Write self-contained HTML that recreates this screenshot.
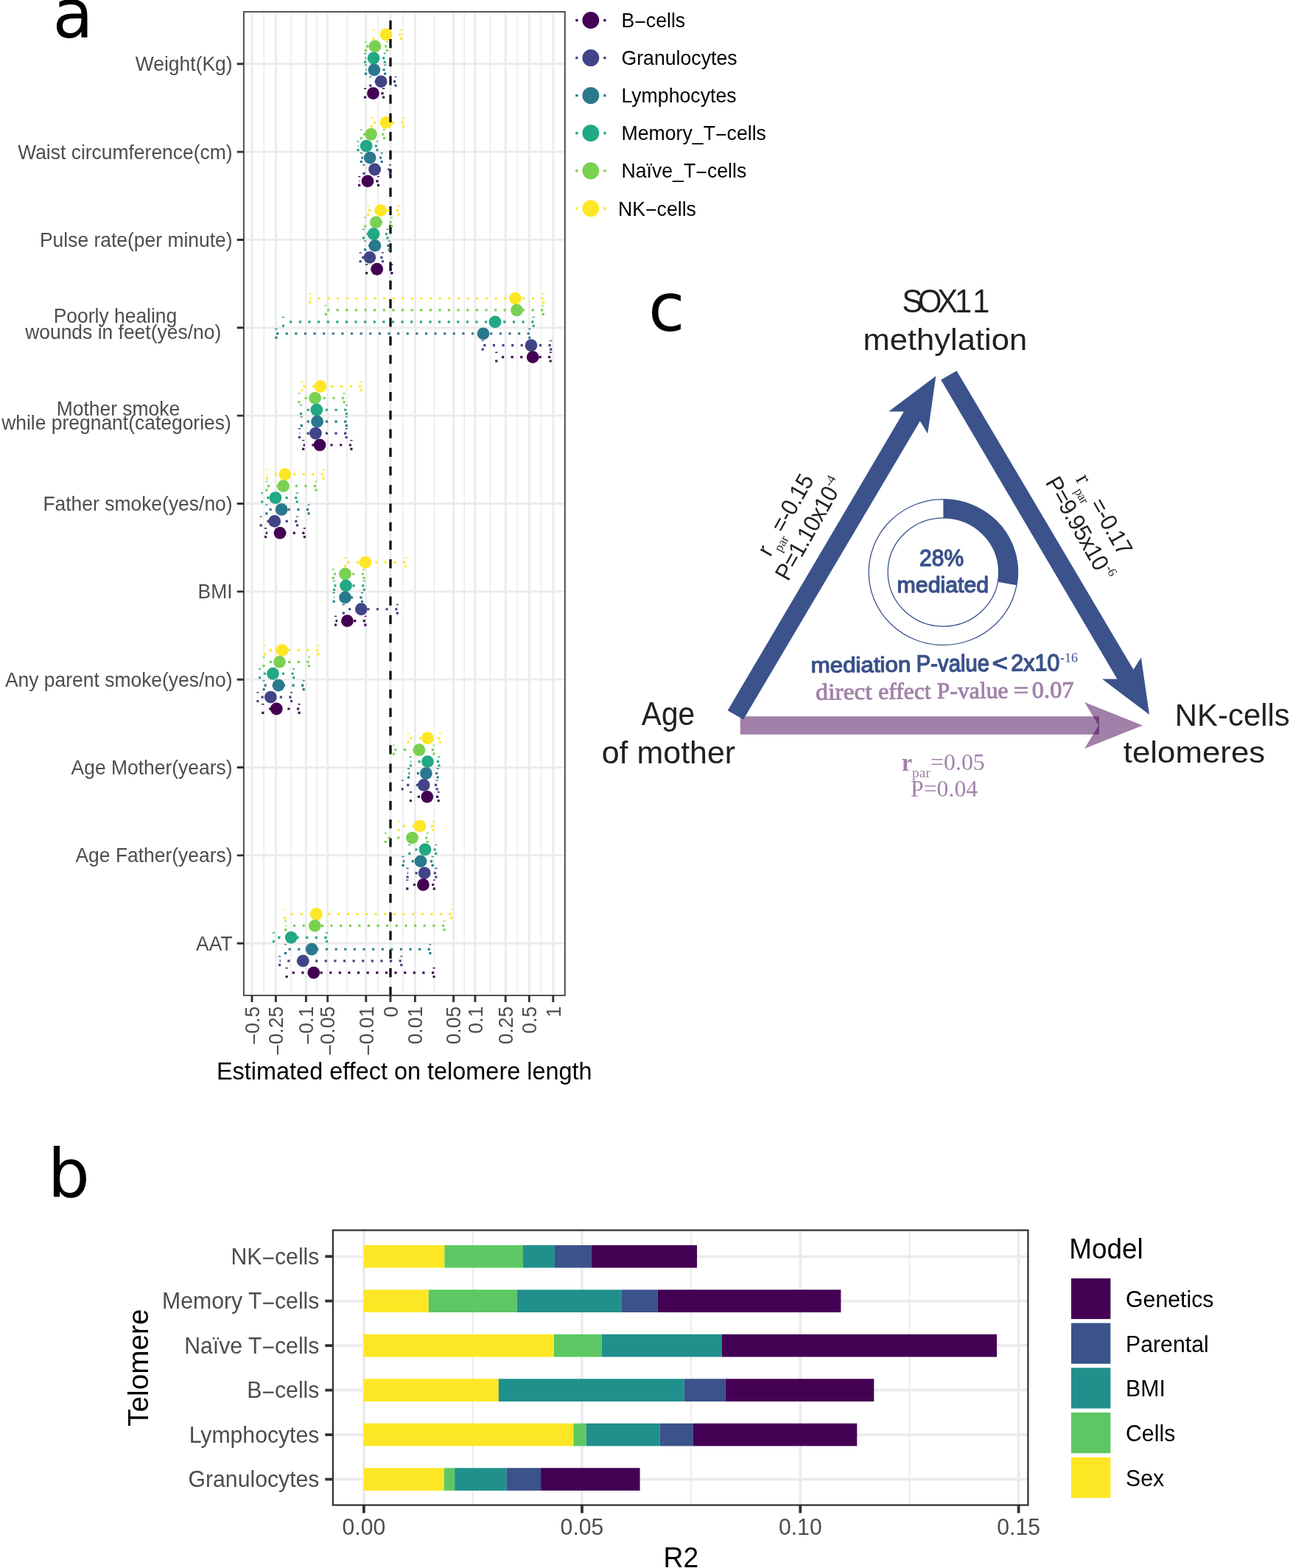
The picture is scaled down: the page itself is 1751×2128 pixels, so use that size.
<!DOCTYPE html>
<html lang="en">
<head>
<meta charset="utf-8">
<title>Figure: telomere length associations</title>
<style>
html, body { margin: 0; padding: 0; background: #fff; }
body { width: 1751px; height: 2128px; overflow: hidden; }
svg { display: block; }
text { white-space: pre; }
</style>
</head>
<body>
<svg width="1751" height="2128" viewBox="0 0 1751 2128">
<rect width="1751" height="2128" fill="#fff"/>
<g id="panel-a">
<path d="M358.2 16V1350.9M394.9 16V1350.9M430.05 16V1350.9M470.75 16V1350.9M513.4 16V1350.9M546.7 16V1350.9M589.5 16V1350.9M630.25 16V1350.9M665.55 16V1350.9M702.25 16V1350.9M734.55 16V1350.9" stroke="#EBEBEB" stroke-width="1.5" fill="none"/>
<path d="M342 16V1350.9M374.4 16V1350.9M415.4 16V1350.9M444.7 16V1350.9M496.8 16V1350.9M530 16V1350.9M563.4 16V1350.9M615.6 16V1350.9M644.9 16V1350.9M686.2 16V1350.9M718.3 16V1350.9M750.8 16V1350.9M330.9 86.77H766.8M330.9 206.12H766.8M330.9 325.47H766.8M330.9 444.82H766.8M330.9 564.17H766.8M330.9 683.52H766.8M330.9 802.87H766.8M330.9 922.22H766.8M330.9 1041.57H766.8M330.9 1160.92H766.8M330.9 1280.27H766.8" stroke="#EBEBEB" stroke-width="2.8" fill="none"/>
<g><circle cx="524" cy="46.97" r="8.4" fill="#FDE725"/><circle cx="508.9" cy="62.89" r="8.4" fill="#7AD151"/><circle cx="507.1" cy="78.81" r="8.4" fill="#22A884"/><circle cx="507.9" cy="94.73" r="8.4" fill="#2A788E"/><circle cx="517.2" cy="110.65" r="8.4" fill="#414487"/><circle cx="506.5" cy="126.57" r="8.4" fill="#440154"/><circle cx="524" cy="166.32" r="8.4" fill="#FDE725"/><circle cx="503.6" cy="182.24" r="8.4" fill="#7AD151"/><circle cx="497.2" cy="198.16" r="8.4" fill="#22A884"/><circle cx="502.2" cy="214.08" r="8.4" fill="#2A788E"/><circle cx="508.6" cy="230" r="8.4" fill="#414487"/><circle cx="499" cy="245.92" r="8.4" fill="#440154"/><circle cx="516.7" cy="285.67" r="8.4" fill="#FDE725"/><circle cx="510.3" cy="301.59" r="8.4" fill="#7AD151"/><circle cx="507.1" cy="317.51" r="8.4" fill="#22A884"/><circle cx="508.9" cy="333.43" r="8.4" fill="#2A788E"/><circle cx="501.8" cy="349.35" r="8.4" fill="#414487"/><circle cx="511.7" cy="365.27" r="8.4" fill="#440154"/><circle cx="699.4" cy="405.02" r="8.4" fill="#FDE725"/><circle cx="701.5" cy="420.94" r="8.4" fill="#7AD151"/><circle cx="672" cy="436.86" r="8.4" fill="#22A884"/><circle cx="656" cy="452.78" r="8.4" fill="#2A788E"/><circle cx="721" cy="468.7" r="8.4" fill="#414487"/><circle cx="723.2" cy="484.62" r="8.4" fill="#440154"/><circle cx="435" cy="524.37" r="8.4" fill="#FDE725"/><circle cx="427.6" cy="540.29" r="8.4" fill="#7AD151"/><circle cx="429.8" cy="556.21" r="8.4" fill="#22A884"/><circle cx="430.6" cy="572.13" r="8.4" fill="#2A788E"/><circle cx="428.4" cy="588.05" r="8.4" fill="#414487"/><circle cx="434" cy="603.97" r="8.4" fill="#440154"/><circle cx="386.8" cy="643.72" r="8.4" fill="#FDE725"/><circle cx="384.6" cy="659.64" r="8.4" fill="#7AD151"/><circle cx="373.9" cy="675.56" r="8.4" fill="#22A884"/><circle cx="382.2" cy="691.48" r="8.4" fill="#2A788E"/><circle cx="372.7" cy="707.4" r="8.4" fill="#414487"/><circle cx="380" cy="723.32" r="8.4" fill="#440154"/><circle cx="496" cy="763.07" r="8.4" fill="#FDE725"/><circle cx="468.5" cy="778.99" r="8.4" fill="#7AD151"/><circle cx="469.5" cy="794.91" r="8.4" fill="#22A884"/><circle cx="468.5" cy="810.83" r="8.4" fill="#2A788E"/><circle cx="490.3" cy="826.75" r="8.4" fill="#414487"/><circle cx="471.4" cy="842.67" r="8.4" fill="#440154"/><circle cx="383" cy="882.42" r="8.4" fill="#FDE725"/><circle cx="379.5" cy="898.34" r="8.4" fill="#7AD151"/><circle cx="370.5" cy="914.26" r="8.4" fill="#22A884"/><circle cx="378" cy="930.18" r="8.4" fill="#2A788E"/><circle cx="367.4" cy="946.1" r="8.4" fill="#414487"/><circle cx="375.3" cy="962.02" r="8.4" fill="#440154"/><circle cx="580.4" cy="1001.77" r="8.4" fill="#FDE725"/><circle cx="569" cy="1017.69" r="8.4" fill="#7AD151"/><circle cx="580.4" cy="1033.61" r="8.4" fill="#22A884"/><circle cx="578.4" cy="1049.53" r="8.4" fill="#2A788E"/><circle cx="575.2" cy="1065.45" r="8.4" fill="#414487"/><circle cx="579.8" cy="1081.37" r="8.4" fill="#440154"/><circle cx="570" cy="1121.12" r="8.4" fill="#FDE725"/><circle cx="559.5" cy="1137.04" r="8.4" fill="#7AD151"/><circle cx="577" cy="1152.96" r="8.4" fill="#22A884"/><circle cx="571" cy="1168.88" r="8.4" fill="#2A788E"/><circle cx="576.2" cy="1184.8" r="8.4" fill="#414487"/><circle cx="574.4" cy="1200.72" r="8.4" fill="#440154"/><circle cx="429.4" cy="1240.47" r="8.4" fill="#FDE725"/><circle cx="427.4" cy="1256.39" r="8.4" fill="#7AD151"/><circle cx="395.2" cy="1272.31" r="8.4" fill="#22A884"/><circle cx="423.2" cy="1288.23" r="8.4" fill="#2A788E"/><circle cx="411.3" cy="1304.15" r="8.4" fill="#414487"/><circle cx="425.8" cy="1320.07" r="8.4" fill="#440154"/></g>
<path d="M530 1351.35V16" stroke="#000" stroke-width="3.2" stroke-dasharray="12.2 13.02" fill="none"/>
<g fill="none" stroke-width="3.155" stroke-dasharray="3.155 9.46"><path d="M544.5 53.97V39.97M544.5 46.97H507M507 53.97V39.97" stroke="#FDE725"/><path d="M525.4 69.89V55.89M525.4 62.89H496.5M496.5 69.89V55.89" stroke="#7AD151"/><path d="M522.3 85.81V71.81M522.3 78.81H495.6M495.6 85.81V71.81" stroke="#22A884"/><path d="M522.7 101.73V87.73M522.7 94.73H496.5M496.5 101.73V87.73" stroke="#2A788E"/><path d="M537.1 117.65V103.65M537.1 110.65H502.8M502.8 117.65V103.65" stroke="#414487"/><path d="M520.6 133.57V119.57M520.6 126.57H495.6M495.6 133.57V119.57" stroke="#440154"/><path d="M547.8 173.32V159.32M547.8 166.32H504.3M504.3 173.32V159.32" stroke="#FDE725"/><path d="M521.5 189.24V175.24M521.5 182.24H490.3M490.3 189.24V175.24" stroke="#7AD151"/><path d="M511.9 205.16V191.16M511.9 198.16H486M486 205.16V191.16" stroke="#22A884"/><path d="M518.2 221.08V207.08M518.2 214.08H490.3M490.3 221.08V207.08" stroke="#2A788E"/><path d="M529.4 237V223M529.4 230H494M494 237V223" stroke="#414487"/><path d="M513.5 252.92V238.92M513.5 245.92H487.7M487.7 252.92V238.92" stroke="#440154"/><path d="M541.1 292.67V278.67M541.1 285.67H499.4M499.4 292.67V278.67" stroke="#FDE725"/><path d="M531.7 308.59V294.59M531.7 301.59H495.6M495.6 308.59V294.59" stroke="#7AD151"/><path d="M526 324.51V310.51M526 317.51H493.6M493.6 324.51V310.51" stroke="#22A884"/><path d="M528.4 340.43V326.43M528.4 333.43H495.6M495.6 340.43V326.43" stroke="#2A788E"/><path d="M519.5 356.35V342.35M519.5 349.35H489.1M489.1 356.35V342.35" stroke="#414487"/><path d="M531.9 372.27V358.27M531.9 365.27H497.6M497.6 372.27V358.27" stroke="#440154"/><path d="M737.7 412.02V398.02M737.7 405.02H420.6M420.6 412.02V398.02" stroke="#FDE725"/><path d="M737.3 427.94V413.94M737.3 420.94H442.3M442.3 427.94V413.94" stroke="#7AD151"/><path d="M724.3 443.86V429.86M724.3 436.86H384.4M384.4 443.86V429.86" stroke="#22A884"/><path d="M718.8 459.78V445.78M718.8 452.78H374.9M374.9 459.78V445.78" stroke="#2A788E"/><path d="M747.7 475.7V461.7M747.7 468.7H655.2M655.2 475.7V461.7" stroke="#414487"/><path d="M747.2 491.62V477.62M747.2 484.62H673.8M673.8 491.62V477.62" stroke="#440154"/><path d="M490.3 531.37V517.37M490.3 524.37H409.8M409.8 531.37V517.37" stroke="#FDE725"/><path d="M467.1 547.29V533.29M467.1 540.29H406M406 547.29V533.29" stroke="#7AD151"/><path d="M470.3 563.21V549.21M470.3 556.21H408.4M408.4 563.21V549.21" stroke="#22A884"/><path d="M470.3 579.13V565.13M470.3 572.13H409.2M409.2 579.13V565.13" stroke="#2A788E"/><path d="M470.2 595.05V581.05M470.2 588.05H406.5M406.5 595.05V581.05" stroke="#414487"/><path d="M476.9 610.97V596.97M476.9 603.97H411.7M411.7 610.97V596.97" stroke="#440154"/><path d="M438.9 650.72V636.72M438.9 643.72H362.4M362.4 650.72V636.72" stroke="#FDE725"/><path d="M429.1 666.64V652.64M429.1 659.64H362M362 666.64V652.64" stroke="#7AD151"/><path d="M403.3 682.56V668.56M403.3 675.56H355.7M355.7 682.56V668.56" stroke="#22A884"/><path d="M419.1 698.48V684.48M419.1 691.48H361.8M361.8 698.48V684.48" stroke="#2A788E"/><path d="M403.4 714.4V700.4M403.4 707.4H354.2M354.2 714.4V700.4" stroke="#414487"/><path d="M413.4 730.32V716.32M413.4 723.32H360.6M360.6 730.32V716.32" stroke="#440154"/><path d="M550.3 770.07V756.07M550.3 763.07H468.5M468.5 770.07V756.07" stroke="#FDE725"/><path d="M493.9 785.99V771.99M493.9 778.99H452.3M452.3 785.99V771.99" stroke="#7AD151"/><path d="M494.3 801.91V787.91M494.3 794.91H453.5M453.5 801.91V787.91" stroke="#22A884"/><path d="M491.5 817.83V803.83M491.5 810.83H453.1M453.1 817.83V803.83" stroke="#2A788E"/><path d="M539.3 833.75V819.75M539.3 826.75H466.3M466.3 833.75V819.75" stroke="#414487"/><path d="M495.9 849.67V835.67M495.9 842.67H455.5M455.5 849.67V835.67" stroke="#440154"/><path d="M432 889.42V875.42M432 882.42H359.4M359.4 889.42V875.42" stroke="#FDE725"/><path d="M419.5 905.34V891.34M419.5 898.34H357.9M357.9 905.34V891.34" stroke="#7AD151"/><path d="M398.7 921.26V907.26M398.7 914.26H352.6M352.6 921.26V907.26" stroke="#22A884"/><path d="M412.2 937.18V923.18M412.2 930.18H358.1M358.1 937.18V923.18" stroke="#2A788E"/><path d="M395.5 953.1V939.1M395.5 946.1H349.9M349.9 953.1V939.1" stroke="#414487"/><path d="M406.1 969.02V955.02M406.1 962.02H356.8M356.8 969.02V955.02" stroke="#440154"/><path d="M597.3 1008.77V994.77M597.3 1001.77H553.9M553.9 1008.77V994.77" stroke="#FDE725"/><path d="M588.9 1024.69V1010.69M588.9 1017.69H534.4M534.4 1024.69V1010.69" stroke="#7AD151"/><path d="M596 1040.61V1026.61M596 1033.61H557.3M557.3 1040.61V1026.61" stroke="#22A884"/><path d="M594.2 1056.53V1042.53M594.2 1049.53H554.6M554.6 1056.53V1042.53" stroke="#2A788E"/><path d="M593.2 1072.45V1058.45M593.2 1065.45H546.2M546.2 1072.45V1058.45" stroke="#414487"/><path d="M595.2 1088.37V1074.37M595.2 1081.37H557.4M557.4 1088.37V1074.37" stroke="#440154"/><path d="M588.1 1128.12V1114.12M588.1 1121.12H540.9M540.9 1128.12V1114.12" stroke="#FDE725"/><path d="M580.2 1144.04V1130.04M580.2 1137.04H523.2M523.2 1144.04V1130.04" stroke="#7AD151"/><path d="M591.8 1159.96V1145.96M591.8 1152.96H555.9M555.9 1159.96V1145.96" stroke="#22A884"/><path d="M587.1 1175.88V1161.88M587.1 1168.88H547M547 1175.88V1161.88" stroke="#2A788E"/><path d="M591.9 1191.8V1177.8M591.9 1184.8H553.1M553.1 1191.8V1177.8" stroke="#414487"/><path d="M589.3 1207.72V1193.72M589.3 1200.72H552.8M552.8 1207.72V1193.72" stroke="#440154"/><path d="M612.7 1247.47V1233.47M612.7 1240.47H386.7M386.7 1247.47V1233.47" stroke="#FDE725"/><path d="M603 1263.39V1249.39M603 1256.39H387.7M387.7 1263.39V1249.39" stroke="#7AD151"/><path d="M443.5 1279.31V1265.31M443.5 1272.31H371.5M371.5 1279.31V1265.31" stroke="#22A884"/><path d="M583.9 1295.23V1281.23M583.9 1288.23H387.5M387.5 1295.23V1281.23" stroke="#2A788E"/><path d="M544.8 1311.15V1297.15M544.8 1304.15H379.6M379.6 1311.15V1297.15" stroke="#414487"/><path d="M589.1 1327.07V1313.07M589.1 1320.07H389.1M389.1 1327.07V1313.07" stroke="#440154"/></g>
<rect x="330.9" y="16" width="435.9" height="1334.9" fill="none" stroke="#383838" stroke-width="1.7"/>
<path d="M321.7 86.77H330.9M321.7 206.12H330.9M321.7 325.47H330.9M321.7 444.82H330.9M321.7 564.17H330.9M321.7 683.52H330.9M321.7 802.87H330.9M321.7 922.22H330.9M321.7 1041.57H330.9M321.7 1160.92H330.9M321.7 1280.27H330.9M342 1350.9V1359.9M374.4 1350.9V1359.9M415.4 1350.9V1359.9M444.7 1350.9V1359.9M496.8 1350.9V1359.9M530 1350.9V1359.9M563.4 1350.9V1359.9M615.6 1350.9V1359.9M644.9 1350.9V1359.9M686.2 1350.9V1359.9M718.3 1350.9V1359.9M750.8 1350.9V1359.9" stroke="#333" stroke-width="2.9" fill="none"/>
<g font-family='"Liberation Sans", Arial, Helvetica, sans-serif' font-size="26.45" fill="#4D4D4D" text-anchor="end">
<text transform="translate(315.6 96.27) scale(1 1.045)">Weight(Kg)</text>
<text transform="translate(315.6 215.62) scale(1 1.045)">Waist circumference(cm)</text>
<text transform="translate(315.6 334.97) scale(1 1.045)">Pulse rate(per minute)</text>
<text transform="translate(240.3 438.1) scale(1 1.045)">Poorly healing</text>
<text transform="translate(300.2 459.8) scale(1 1.045)">wounds in feet(yes/no)</text>
<text transform="translate(244.2 563.8) scale(1 1.045)">Mother smoke</text>
<text transform="translate(313.8 583) scale(1 1.045)">while pregnant(categories)</text>
<text transform="translate(315.6 693.02) scale(1 1.045)">Father smoke(yes/no)</text>
<text transform="translate(315.6 812.37) scale(1 1.045)">BMI</text>
<text transform="translate(315.6 931.72) scale(1 1.045)">Any parent smoke(yes/no)</text>
<text transform="translate(315.6 1051.07) scale(1 1.045)">Age Mother(years)</text>
<text transform="translate(315.6 1170.42) scale(1 1.045)">Age Father(years)</text>
<text transform="translate(315.6 1289.77) scale(1 1.045)">AAT</text>
</g>
<g font-family='"Liberation Sans", Arial, Helvetica, sans-serif' font-size="26.45" fill="#4D4D4D" text-anchor="end">
<text transform="translate(351.7 1365.9) rotate(-90) scale(1 1.05)"><tspan dy="2.25">−</tspan><tspan dy="-2.25">0.5</tspan></text>
<text transform="translate(384.1 1365.9) rotate(-90) scale(1 1.05)"><tspan dy="2.25">−</tspan><tspan dy="-2.25">0.25</tspan></text>
<text transform="translate(425.1 1365.9) rotate(-90) scale(1 1.05)"><tspan dy="2.25">−</tspan><tspan dy="-2.25">0.1</tspan></text>
<text transform="translate(454.4 1365.9) rotate(-90) scale(1 1.05)"><tspan dy="2.25">−</tspan><tspan dy="-2.25">0.05</tspan></text>
<text transform="translate(506.5 1365.9) rotate(-90) scale(1 1.05)"><tspan dy="2.25">−</tspan><tspan dy="-2.25">0.01</tspan></text>
<text transform="translate(539.7 1365.9) rotate(-90) scale(1 1.05)">0</text>
<text transform="translate(573.1 1365.9) rotate(-90) scale(1 1.05)">0.01</text>
<text transform="translate(625.3 1365.9) rotate(-90) scale(1 1.05)">0.05</text>
<text transform="translate(654.6 1365.9) rotate(-90) scale(1 1.05)">0.1</text>
<text transform="translate(695.9 1365.9) rotate(-90) scale(1 1.05)">0.25</text>
<text transform="translate(728 1365.9) rotate(-90) scale(1 1.05)">0.5</text>
<text transform="translate(760.5 1365.9) rotate(-90) scale(1 1.05)">1</text>
</g>
<text transform="translate(548.8 1465) scale(1 1.045)" font-family='"Liberation Sans", Arial, Helvetica, sans-serif' font-size="32.45" fill="#000" text-anchor="middle">Estimated effect on telomere length</text>
<g font-family='"Liberation Sans", Arial, Helvetica, sans-serif' font-size="26.7" fill="#000">
<rect x="781.25" y="25.85" width="3.3" height="3.3" fill="#440154"/>
<rect x="819.25" y="25.85" width="3.3" height="3.3" fill="#440154"/>
<circle cx="801.85" cy="27.5" r="11.45" fill="#440154"/>
<text transform="translate(843.4 37.2) scale(1 1.045)">B<tspan dy="1.33">−</tspan><tspan dy="-1.33">cells</tspan></text>
<rect x="781.25" y="76.92" width="3.3" height="3.3" fill="#414487"/>
<rect x="819.25" y="76.92" width="3.3" height="3.3" fill="#414487"/>
<circle cx="801.85" cy="78.57" r="11.45" fill="#414487"/>
<text transform="translate(843.4 88.27) scale(1 1.045)">Granulocytes</text>
<rect x="781.25" y="127.99" width="3.3" height="3.3" fill="#2A788E"/>
<rect x="819.25" y="127.99" width="3.3" height="3.3" fill="#2A788E"/>
<circle cx="801.85" cy="129.64" r="11.45" fill="#2A788E"/>
<text transform="translate(843.4 139.34) scale(1 1.045)">Lymphocytes</text>
<rect x="781.25" y="179.06" width="3.3" height="3.3" fill="#22A884"/>
<rect x="819.25" y="179.06" width="3.3" height="3.3" fill="#22A884"/>
<circle cx="801.85" cy="180.71" r="11.45" fill="#22A884"/>
<text transform="translate(843.4 190.41) scale(1 1.045)">Memory_T<tspan dy="1.33">−</tspan><tspan dy="-1.33">cells</tspan></text>
<rect x="781.25" y="230.13" width="3.3" height="3.3" fill="#7AD151"/>
<rect x="819.25" y="230.13" width="3.3" height="3.3" fill="#7AD151"/>
<circle cx="801.85" cy="231.78" r="11.45" fill="#7AD151"/>
<text transform="translate(843.4 241.48) scale(1 1.045)">Naïve_T<tspan dy="1.33">−</tspan><tspan dy="-1.33">cells</tspan></text>
<rect x="781.25" y="281.2" width="3.3" height="3.3" fill="#FDE725"/>
<rect x="819.25" y="281.2" width="3.3" height="3.3" fill="#FDE725"/>
<circle cx="801.85" cy="282.85" r="11.45" fill="#FDE725"/>
<text transform="translate(838.9 292.55) scale(1 1.045)">NK<tspan dy="1.33">−</tspan><tspan dy="-1.33">cells</tspan></text>
</g>
<text transform="translate(71.5 50.7) scale(1 1.025)" font-family='"DejaVu Sans", "Liberation Sans", sans-serif' font-size="90" fill="#000">a</text>
</g>
<g id="panel-b">
<path d="M641.95 1669.6V2042.6M938.15 1669.6V2042.6M1234.45 1669.6V2042.6" stroke="#EBEBEB" stroke-width="1.9" fill="none"/>
<path d="M493.9 1669.6V2042.6M790 1669.6V2042.6M1086.3 1669.6V2042.6M1382.6 1669.6V2042.6M451.9 1705.2H1395.4M451.9 1765.68H1395.4M451.9 1826.16H1395.4M451.9 1886.64H1395.4M451.9 1947.12H1395.4M451.9 2007.6H1395.4" stroke="#EBEBEB" stroke-width="3.6" fill="none"/>
<rect x="493.9" y="1689.85" width="109.5" height="30.7" fill="#FDE725"/>
<rect x="603.4" y="1689.85" width="106.6" height="30.7" fill="#5DC863"/>
<rect x="710" y="1689.85" width="42.9" height="30.7" fill="#21908C"/>
<rect x="752.9" y="1689.85" width="49.5" height="30.7" fill="#3B528B"/>
<rect x="802.4" y="1689.85" width="143.7" height="30.7" fill="#440154"/>
<rect x="493.9" y="1750.33" width="87.9" height="30.7" fill="#FDE725"/>
<rect x="581.8" y="1750.33" width="120.1" height="30.7" fill="#5DC863"/>
<rect x="701.9" y="1750.33" width="142" height="30.7" fill="#21908C"/>
<rect x="843.9" y="1750.33" width="48.9" height="30.7" fill="#3B528B"/>
<rect x="892.8" y="1750.33" width="248.6" height="30.7" fill="#440154"/>
<rect x="493.9" y="1810.81" width="258.1" height="30.7" fill="#FDE725"/>
<rect x="752" y="1810.81" width="64.8" height="30.7" fill="#5DC863"/>
<rect x="816.8" y="1810.81" width="163" height="30.7" fill="#21908C"/>
<rect x="979.8" y="1810.81" width="373.3" height="30.7" fill="#440154"/>
<rect x="493.9" y="1871.29" width="182.9" height="30.7" fill="#FDE725"/>
<rect x="676.8" y="1871.29" width="252" height="30.7" fill="#21908C"/>
<rect x="928.8" y="1871.29" width="55.9" height="30.7" fill="#3B528B"/>
<rect x="984.7" y="1871.29" width="201.6" height="30.7" fill="#440154"/>
<rect x="493.9" y="1931.77" width="284.6" height="30.7" fill="#FDE725"/>
<rect x="778.5" y="1931.77" width="17.3" height="30.7" fill="#5DC863"/>
<rect x="795.8" y="1931.77" width="99.9" height="30.7" fill="#21908C"/>
<rect x="895.7" y="1931.77" width="45.2" height="30.7" fill="#3B528B"/>
<rect x="940.9" y="1931.77" width="222.4" height="30.7" fill="#440154"/>
<rect x="493.9" y="1992.25" width="108.9" height="30.7" fill="#FDE725"/>
<rect x="602.8" y="1992.25" width="14.4" height="30.7" fill="#5DC863"/>
<rect x="617.2" y="1992.25" width="70.6" height="30.7" fill="#21908C"/>
<rect x="687.8" y="1992.25" width="46.3" height="30.7" fill="#3B528B"/>
<rect x="734.1" y="1992.25" width="134.5" height="30.7" fill="#440154"/>
<rect x="451.9" y="1669.6" width="943.5" height="373" fill="none" stroke="#333" stroke-width="2.3"/>
<path d="M441.3 1705.2H451.9M441.3 1765.68H451.9M441.3 1826.16H451.9M441.3 1886.64H451.9M441.3 1947.12H451.9M441.3 2007.6H451.9M493.9 2042.6V2053.4M790 2042.6V2053.4M1086.3 2042.6V2053.4M1382.6 2042.6V2053.4" stroke="#333" stroke-width="3.8" fill="none"/>
<g font-family='"Liberation Sans", Arial, Helvetica, sans-serif' font-size="30.2" fill="#4D4D4D" text-anchor="end">
<text transform="translate(433.4 1715.9) scale(1 1.045)">NK<tspan dy="2.10">−</tspan><tspan dy="-2.10">cells</tspan></text>
<text transform="translate(433.4 1776.38) scale(1 1.045)">Memory T<tspan dy="2.10">−</tspan><tspan dy="-2.10">cells</tspan></text>
<text transform="translate(433.4 1836.86) scale(1 1.045)">Naïve T<tspan dy="2.10">−</tspan><tspan dy="-2.10">cells</tspan></text>
<text transform="translate(433.4 1897.34) scale(1 1.045)">B<tspan dy="2.10">−</tspan><tspan dy="-2.10">cells</tspan></text>
<text transform="translate(433.4 1957.82) scale(1 1.045)">Lymphocytes</text>
<text transform="translate(433.4 2018.3) scale(1 1.045)">Granulocytes</text>
</g>
<g font-family='"Liberation Sans", Arial, Helvetica, sans-serif' font-size="30.2" fill="#4D4D4D" text-anchor="middle">
<text transform="translate(493.9 2083.4) scale(1 1.045)">0.00</text>
<text transform="translate(790 2083.4) scale(1 1.045)">0.05</text>
<text transform="translate(1086.3 2083.4) scale(1 1.045)">0.10</text>
<text transform="translate(1382.6 2083.4) scale(1 1.045)">0.15</text>
</g>
<text transform="translate(924.3 2126.9) scale(1 1.045)" font-family='"Liberation Sans", Arial, Helvetica, sans-serif' font-size="37.3" fill="#000" text-anchor="middle">R2</text>
<text transform="translate(201.2 1856.2) rotate(-90) scale(1 1.006)" font-family='"Liberation Sans", Arial, Helvetica, sans-serif' font-size="38.75" fill="#000" text-anchor="middle">Telomere</text>
<text transform="translate(1451.2 1708.3) scale(1 1.045)" font-family='"Liberation Sans", Arial, Helvetica, sans-serif' font-size="36.9" fill="#000">Model</text>
<g font-family='"Liberation Sans", Arial, Helvetica, sans-serif' font-size="30.3" fill="#000">
<rect x="1454" y="1734.9" width="53.4" height="55.2" fill="#440154"/>
<text transform="translate(1528 1774) scale(1 1.045)">Genetics</text>
<rect x="1454" y="1795.6" width="53.4" height="55.2" fill="#3B528B"/>
<text transform="translate(1528 1834.7) scale(1 1.045)">Parental</text>
<rect x="1454" y="1856.3" width="53.4" height="55.2" fill="#21908C"/>
<text transform="translate(1528 1895.4) scale(1 1.045)">BMI</text>
<rect x="1454" y="1917" width="53.4" height="55.2" fill="#5DC863"/>
<text transform="translate(1528 1956.1) scale(1 1.045)">Cells</text>
<rect x="1454" y="1977.7" width="53.4" height="55.2" fill="#FDE725"/>
<text transform="translate(1528 2016.8) scale(1 1.045)">Sex</text>
</g>
<text x="64.8" y="1623.6" font-family='"DejaVu Sans", "Liberation Sans", sans-serif' font-size="90" fill="#000">b</text>
</g>
<g id="panel-c">
<g fill="#440154" fill-opacity="0.5">
<rect x="1004.8" y="972.2" width="487.2" height="24.6"/>
<polygon points="1472.1,953 1551,984.4 1472.1,1016 1491.1,984.4"/>
</g>
<g fill="#3B528B">
<polygon points="987.7,964.2 1226.9,558.6 1206.2,558.6 1270.4,510.2 1259.2,588.5 1248.8,571.6 1009.1,976.4"/>
<polygon points="1277.2,515.4 1298.6,503.3 1538.5,908.8 1548.9,892.2 1560,969.8 1496,921.6 1516.4,921.6"/>
</g>
<g transform="translate(1280.4 776.5) scale(1 0.9775)">
<circle cx="0" cy="0" r="101.2" fill="none" stroke="#3B528B" stroke-width="1.3"/>
<circle cx="0" cy="0" r="75.25" fill="none" stroke="#3B528B" stroke-width="1.3"/>
<path d="M0 -101.2A101.2 101.2 0 0 1 99.57 18.09L74.04 13.45A75.25 75.25 0 0 0 0 -75.25Z" fill="#3B528B"/>
</g>
<g fill="#3B528B" stroke="#3B528B" stroke-linejoin="round">
<text transform="translate(1248.04 767.55) scale(0.982 1.009)" font-family='"Liberation Sans", Arial, Helvetica, sans-serif' font-size="30.6" stroke-width="1.3">28%</text>
<text transform="translate(1217.54 803.55) scale(0.991 0.976)" font-family='"Liberation Sans", Arial, Helvetica, sans-serif' font-size="30.6" stroke-width="1.3">mediated</text>
</g>
<g transform="rotate(-0.45 1102 913)" fill="#3B528B" stroke="#3B528B" stroke-linejoin="round">
<text transform="translate(1100.67 912.65) scale(1.023 0.949)" font-family='"Liberation Sans", Arial, Helvetica, sans-serif' font-size="30.6" stroke-width="1.3">mediation</text>
<text transform="translate(1243.75 912.65) scale(0.957 1.045)" font-family='"Liberation Sans", Arial, Helvetica, sans-serif' font-size="30.6" stroke-width="1.3">P-value</text>
<text transform="translate(1346.84 912.65) scale(1.191 1.045)" font-family='"Liberation Sans", Arial, Helvetica, sans-serif' font-size="30.6" stroke-width="1.3">&lt;</text>
<text transform="translate(1372.22 912.65) scale(1 1.045)" font-family='"Liberation Sans", Arial, Helvetica, sans-serif' font-size="30.6" stroke-width="1.3">2x10</text>
<text transform="translate(1439.16 901.1) scale(1.034 1.027)" font-family='"Liberation Serif", "Times New Roman", Times, serif' font-size="17.5" stroke="none">-16</text>
</g>
<g transform="rotate(-0.5 1108 950)" fill="#A280AA" stroke="#A280AA" stroke-linejoin="round">
<text transform="translate(1107.37 949.55) scale(1.067 1)" font-family='"Liberation Serif", "Times New Roman", Times, serif' font-size="31.5" stroke-width="0.9">direct</text>
<text transform="translate(1192.21 949.55) scale(1.007 1)" font-family='"Liberation Serif", "Times New Roman", Times, serif' font-size="31.5" stroke-width="0.9">effect</text>
<text transform="translate(1271.88 949.55) scale(1.006 1)" font-family='"Liberation Serif", "Times New Roman", Times, serif' font-size="31.5" stroke-width="0.9">P-value</text>
<text transform="translate(1375.64 949.55) scale(1.158 1)" font-family='"Liberation Serif", "Times New Roman", Times, serif' font-size="31.5" stroke-width="0.9">=</text>
<text transform="translate(1400.81 949.55) scale(1.033 1)" font-family='"Liberation Serif", "Times New Roman", Times, serif' font-size="31.5" stroke-width="0.9">0.07</text>
</g>
<g fill="#440154" fill-opacity="0.5">
<text transform="translate(1223.7 1044.6) scale(1 1.014)" font-family='"Liberation Serif", "Times New Roman", Times, serif' font-size="31.87"><tspan font-weight="bold" font-size="32.6" dy="1.2">r</tspan><tspan x="14.2" font-size="19.6" dy="9">par</tspan><tspan x="39.35" dy="-10.2">=0.05</tspan></text>
<text transform="translate(1236.03 1081) scale(1.025 0.999)" font-family='"Liberation Serif", "Times New Roman", Times, serif' font-size="31">P=0.04</text>
</g>
<g fill="#231F20">
<text transform="translate(1224.41 424.3) scale(0.97 1.029)" font-family='"Liberation Sans", Arial, Helvetica, sans-serif' font-size="43" letter-spacing="-6.4">SOX<tspan x="73.86" letter-spacing="4.24">11</tspan></text>
<text transform="translate(1171.51 475.3) scale(1.013 0.951)" font-family='"Liberation Sans", Arial, Helvetica, sans-serif' font-size="43">methylation</text>
<text transform="translate(870.8 984.4) scale(0.945 1.045)" font-family='"Liberation Sans", Arial, Helvetica, sans-serif' font-size="43">Age</text>
<text transform="translate(816.72 1035.8) scale(0.999 1.005)" font-family='"Liberation Sans", Arial, Helvetica, sans-serif' font-size="43">of mother</text>
<text transform="translate(1594.86 984.7) scale(0.974 0.986)" font-family='"Liberation Sans", Arial, Helvetica, sans-serif' font-size="43">NK-cells</text>
<text transform="translate(1524.79 1035.3) scale(1.019 0.963)" font-family='"Liberation Sans", Arial, Helvetica, sans-serif' font-size="43">telomeres</text>
</g>
<g font-family='"Liberation Sans", Arial, Helvetica, sans-serif' font-size="30.5" fill="#231F20">
<text transform="translate(1045.6 756.8) rotate(-60.5) scale(1 1.045)"><tspan>r</tspan><tspan font-family='"Liberation Serif", "Times New Roman", Times, serif' font-size="17" dy="9" dx="3">par</tspan><tspan dy="-9" dx="2" letter-spacing="-0.5">=-0.15</tspan></text>
<text transform="translate(1069.8 789.9) rotate(-60.5) scale(1 1.045)" letter-spacing="-0.8">P=1.10x10<tspan font-family='"Liberation Serif", "Times New Roman", Times, serif' font-size="17" dy="-12" dx="1" letter-spacing="0">-4</tspan></text>
<text transform="translate(1459.6 650.3) rotate(60.5) scale(1 1.045)"><tspan font-family='"Liberation Serif", "Times New Roman", Times, serif'>r</tspan><tspan font-family='"Liberation Serif", "Times New Roman", Times, serif' font-size="17" dy="9" dx="3">par</tspan><tspan dy="-9" dx="4" letter-spacing="-0.9">=-0.17</tspan></text>
<text transform="translate(1418.3 654.4) rotate(60.5) scale(1 1.045)" letter-spacing="-0.77">P=9.95x10<tspan font-family='"Liberation Serif", "Times New Roman", Times, serif' font-size="17" dy="-13" dx="2" letter-spacing="0">-6</tspan></text>
</g>
<text x="880.1" y="449.4" font-family='"DejaVu Sans", "Liberation Sans", sans-serif' font-size="90" fill="#000">c</text>
</g>
</svg>
</body>
</html>
